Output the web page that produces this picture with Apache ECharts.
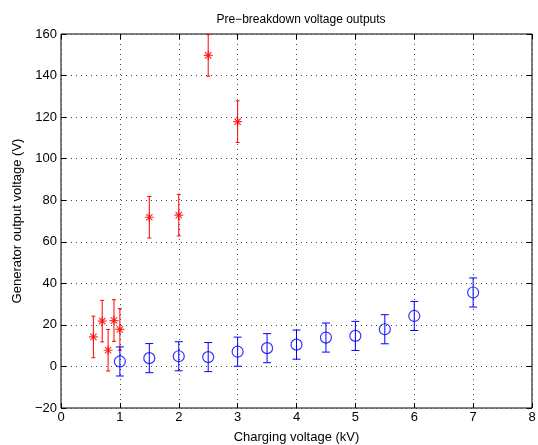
<!DOCTYPE html>
<html><head><meta charset="utf-8">
<script src="https://cdn.jsdelivr.net/npm/echarts@6/dist/echarts.min.js"></script>
<style>html,body{margin:0;padding:0;background:#fff}#c{width:538px;height:445px}</style>
</head><body><div id="c"></div>
<script>
var redX = [0.55, 0.7, 0.8, 0.9, 1.0, 1.5, 2.0, 2.5, 3.0];
var redY = [14.2, 21.8, 7.8, 22.1, 17.8, 71.8, 72.8, 149.7, 117.8];
var redErr = [10, 10, 10, 10, 10, 10, 10, 10, 10];
var blueX = [1, 1.5, 2, 2.5, 3, 3.5, 4, 4.5, 5, 5.5, 6, 7];
var blueY = [2.4, 4.0, 4.9, 4.5, 7.1, 8.8, 10.5, 13.9, 14.7, 17.9, 24.3, 35.6];
var blueErr = [7, 7, 7, 7, 7, 7, 7, 7, 7, 7, 7, 7];
var xTicks = [0, 1, 2, 3, 4, 5, 6, 7, 8];
var yTicks = [-20, 0, 20, 40, 60, 80, 100, 120, 140, 160];

var FONT = 'Liberation Sans, Arial, sans-serif';
function pairs(xs, ys) { return xs.map(function (x, i) { return [x, ys[i]]; }); }
function errData(xs, ys, es) { return xs.map(function (x, i) { return [x, ys[i] - es[i], ys[i] + es[i]]; }); }
function errRender(color, cap) {
  return function (params, api) {
    var lo = api.coord([api.value(0), api.value(1)]);
    var hi = api.coord([api.value(0), api.value(2)]);
    var st = { stroke: color, lineWidth: 1 };
    return { type: 'group', children: [
      { type: 'line', shape: { x1: lo[0], y1: lo[1], x2: hi[0], y2: hi[1] }, style: st },
      { type: 'line', shape: { x1: lo[0] - cap, y1: lo[1], x2: lo[0] + cap, y2: lo[1] }, style: st },
      { type: 'line', shape: { x1: hi[0] - cap, y1: hi[1], x2: hi[0] + cap, y2: hi[1] }, style: st }
    ]};
  };
}
var star = 'path://M0,-1L0,1M-1,0L1,0M-0.7,-0.7L0.7,0.7M-0.7,0.7L0.7,-0.7';
var grid = { left: 61, right: 6, top: 34, bottom: 37, show: true, borderColor: '#000', borderWidth: 1,
  containLabel: false, outerBoundsMode: 'none' };
var axisCommon = {
  axisLine: { show: false, onZero: false },
  axisTick: { show: true, inside: true, length: 5, lineStyle: { color: '#000' } }
};
var chart = echarts.init(document.getElementById('c'), null, { renderer: 'canvas' });
chart.setOption({
  animation: false,
  title: { text: 'Pre\u2212breakdown voltage outputs', left: 296, textAlign: 'center', top: 9,
    textStyle: { fontFamily: FONT, fontSize: 12, fontWeight: 'normal', color: '#000' } },
  grid: grid,
  xAxis: [
    Object.assign({}, axisCommon, { type: 'value', min: 0, max: 8, interval: 1,
      name: 'Charging voltage (kV)', nameLocation: 'middle', nameGap: 23,
      nameTextStyle: { fontFamily: FONT, fontSize: 13, color: '#000' },
      axisLabel: { color: '#000', fontFamily: FONT, fontSize: 13, margin: 3,
        formatter: function (v) { return xTicks.indexOf(v) >= 0 ? String(v) : ''; } },
      splitLine: { show: true, lineStyle: { color: '#444', type: [1, 4], width: 1 } } }),
    Object.assign({}, axisCommon, { type: 'value', min: 0, max: 8, interval: 1, position: 'top',
      axisLabel: { show: false }, splitLine: { show: false } })
  ],
  yAxis: [
    Object.assign({}, axisCommon, { type: 'value', min: -20, max: 160, interval: 20,
      name: 'Generator output voltage (V)', nameLocation: 'middle', nameGap: 36,
      nameTextStyle: { fontFamily: FONT, fontSize: 13, color: '#000' },
      axisLabel: { color: '#000', fontFamily: FONT, fontSize: 13, margin: 4,
        formatter: function (v) { return yTicks.indexOf(v) >= 0 ? (v < 0 ? '\u2212' + (-v) : String(v)) : ''; } },
      splitLine: { show: true, lineStyle: { color: '#444', type: [1, 4], width: 1 } } }),
    Object.assign({}, axisCommon, { type: 'value', min: -20, max: 160, interval: 20, position: 'right',
      axisLabel: { show: false }, splitLine: { show: false } })
  ],
  series: [
    { type: 'custom', renderItem: errRender('#ff0000', 2), data: errData(redX, redY, redErr), clip: true, z: 3 },
    { type: 'custom', renderItem: errRender('#0000ff', 4), data: errData(blueX, blueY, blueErr), clip: true, z: 3 },
    { type: 'scatter', data: pairs(redX, redY), symbol: star, symbolSize: 9,
      itemStyle: { color: 'none', borderColor: '#ff0000', borderWidth: 1.2 }, z: 4 },
    { type: 'scatter', data: pairs(blueX, blueY), symbol: 'circle', symbolSize: 11,
      itemStyle: { color: 'none', borderColor: '#0000ff', borderWidth: 1.2 }, z: 4 }
  ]
});
</script></body></html>
